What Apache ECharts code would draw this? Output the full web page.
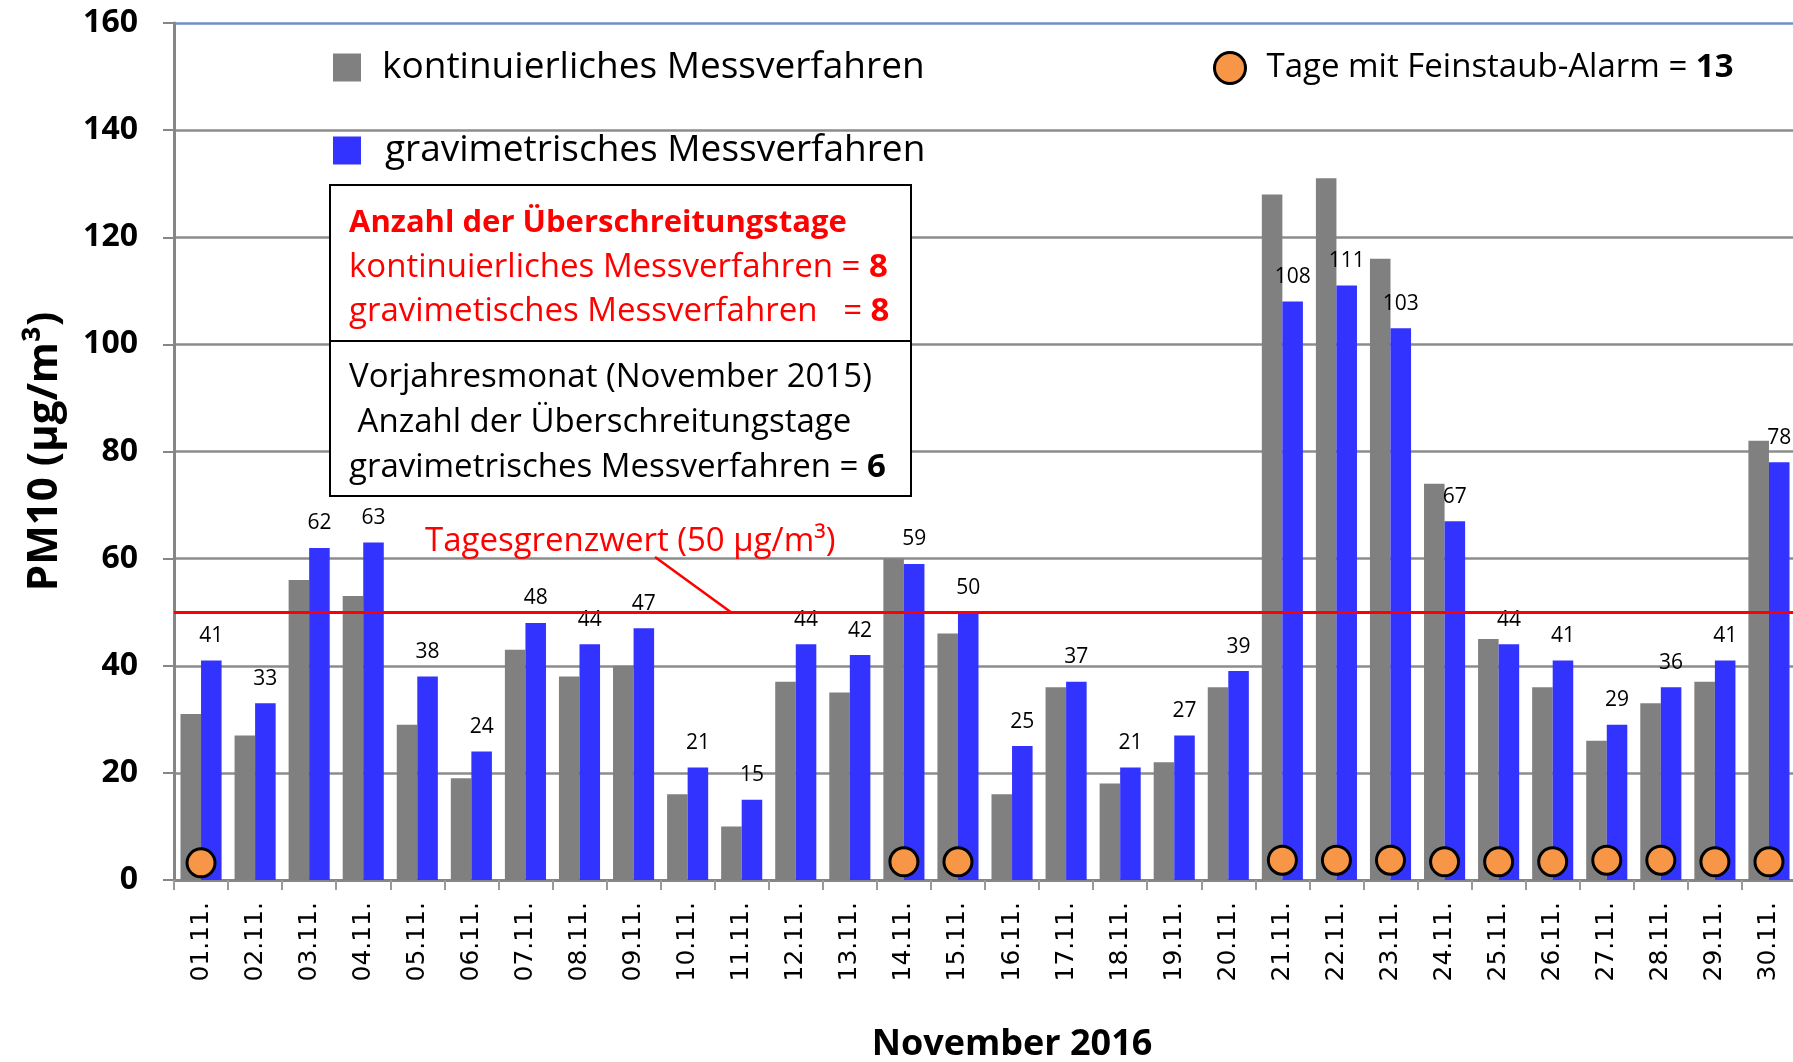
<!DOCTYPE html>
<html>
<head>
<meta charset="utf-8">
<script src="https://cdn.jsdelivr.net/npm/echarts@6/dist/echarts.min.js"></script>
<style>
html, body { margin: 0; padding: 0; background: #fff; }
#chart { width: 1793px; height: 1062px; }
</style>
</head>
<body>
<div id="chart"></div>
<script>
// Tage im November 2016
var days = ['01.11.', '02.11.', '03.11.', '04.11.', '05.11.', '06.11.', '07.11.', '08.11.', '09.11.', '10.11.',
            '11.11.', '12.11.', '13.11.', '14.11.', '15.11.', '16.11.', '17.11.', '18.11.', '19.11.', '20.11.',
            '21.11.', '22.11.', '23.11.', '24.11.', '25.11.', '26.11.', '27.11.', '28.11.', '29.11.', '30.11.'];
// PM10 Tagesmittel, kontinuierliches Messverfahren (grau)
var kontinuierlich = [31, 27, 56, 53, 29, 19, 43, 38, 40, 16, 10, 37, 35, 60, 46,
                      16, 36, 18, 22, 36, 128, 131, 116, 74, 45, 36, 26, 33, 37, 82];
// PM10 Tagesmittel, gravimetrisches Messverfahren (blau)
var gravimetrisch = [41, 33, 62, 63, 38, 24, 48, 44, 47, 21, 15, 44, 42, 59, 50,
                     25, 37, 21, 27, 39, 108, 111, 103, 67, 44, 41, 29, 36, 41, 78];
// Tage mit Feinstaub-Alarm (Markierung knapp ueber der Achse)
var alarm = [3.2, '-', '-', '-', '-', '-', '-', '-', '-', '-', '-', '-', '-', 3.4, 3.4,
             '-', '-', '-', '-', '-', 3.7, 3.7, 3.7, 3.4, 3.4, 3.4, 3.7, 3.7, 3.4, 3.4];
var grenzwert = 50;

var F = '"Open Sans", sans-serif';
var nameKont = 'kontinuierliches Messverfahren';
var nameGrav = 'gravimetrisches Messverfahren';
var nameAlarm = 'Tage mit Feinstaub-Alarm';

function boxLine(y, text, color) {
  return {
    type: 'text', x: 349, y: y, z: 100,
    style: {
      text: text,
      verticalAlign: 'middle',
      fill: color,
      font: '33px ' + F,
      rich: {
        n: { fontFamily: F, fontSize: 33, fill: color },
        b: { fontFamily: F, fontSize: 33, fontWeight: 'bold', fill: color },
        t: { fontFamily: F, fontSize: 31, fontWeight: 'bold', fill: color }
      }
    }
  };
}

var myChart = echarts.init(document.getElementById('chart'));
var option = {
  animation: false,
  backgroundColor: '#fff',
  grid: { left: 174, top: 23, width: 1622, height: 857, outerBoundsMode: 'none' },
  legend: [{
    data: [nameKont], left: 333, top: 49, icon: 'rect', padding: 0,
    itemWidth: 28, itemHeight: 28,
    textStyle: { fontFamily: F, fontSize: 37, color: '#000', padding: [0, 0, 0, 16] }
  }, {
    data: [nameGrav], left: 333, top: 132, icon: 'rect', padding: 0,
    itemWidth: 28, itemHeight: 28,
    textStyle: { fontFamily: F, fontSize: 37, color: '#000', padding: [0, 0, 4, 19] }
  }, {
    data: [nameAlarm], left: 1213, top: 51, padding: 0,
    itemWidth: 31, itemHeight: 31,
    itemStyle: { color: '#f79646', borderColor: '#000', borderWidth: 3 },
    formatter: function (n) { return n + ' = {b|13}'; },
    textStyle: {
      fontFamily: F, fontSize: 33, color: '#000', padding: [0, 0, 0, 16],
      rich: { b: { fontFamily: F, fontSize: 33, fontWeight: 'bold', color: '#000' } }
    }
  }],
  xAxis: {
    type: 'category',
    data: days,
    name: 'November 2016',
    nameLocation: 'middle',
    nameGap: 147,
    nameTextStyle: { fontFamily: F, fontSize: 36, fontWeight: 'bold', color: '#000', padding: [0, 0, 0, 54] },
    axisLine: { lineStyle: { color: '#868686', width: 3 } },
    axisTick: { show: true, length: 10, lineStyle: { color: '#9a9a9a', width: 2 } },
    axisLabel: { rotate: 90, margin: 22, fontFamily: 'DejaVu Sans', fontSize: 25, color: '#000', interval: 0 }
  },
  yAxis: {
    type: 'value',
    min: 0, max: 160, interval: 20,
    name: 'PM10 (µg/m³)',
    nameLocation: 'middle',
    nameGap: 108,
    nameTextStyle: { fontFamily: F, fontSize: 42, fontWeight: 'bold', color: '#000' },
    axisLine: { show: true, lineStyle: { color: '#868686', width: 3 } },
    axisTick: { show: true, length: 11, lineStyle: { color: '#868686', width: 2 } },
    axisLabel: { margin: 36, fontFamily: F, fontSize: 32, fontWeight: 'bold', color: '#000' },
    splitLine: {
      lineStyle: {
        width: 2.5,
        color: ['#8c8c8c', '#8c8c8c', '#8c8c8c', '#8c8c8c', '#8c8c8c', '#8c8c8c', '#8c8c8c', '#8c8c8c', '#6f92c4']
      }
    }
  },
  series: [{
    name: nameKont,
    type: 'bar',
    data: kontinuierlich,
    barGap: '0%',
    barCategoryGap: '24%',
    itemStyle: { color: '#808080' }
  }, {
    name: nameGrav,
    type: 'bar',
    data: gravimetrisch,
    itemStyle: { color: '#3333ff' },
    label: { show: true, position: 'top', distance: 14, fontFamily: F, fontSize: 21, color: '#000' },
    markLine: {
      silent: true,
      symbol: ['none', 'none'],
      label: { show: false },
      lineStyle: { color: '#ff0000', width: 3, type: 'solid' },
      data: [{ yAxis: grenzwert }]
    }
  }, {
    name: nameAlarm,
    type: 'scatter',
    data: alarm,
    z: 5,
    symbol: 'circle',
    symbolSize: 28,
    itemStyle: { color: '#f79646', borderColor: '#000', borderWidth: 3, opacity: 1 }
  }],
  graphic: [
    { type: 'rect', z: 90, shape: { x: 330, y: 185, width: 581, height: 156 },
      style: { fill: '#fff', stroke: '#000', lineWidth: 2 } },
    { type: 'rect', z: 90, shape: { x: 330, y: 341, width: 581, height: 155 },
      style: { fill: '#fff', stroke: '#000', lineWidth: 2 } },
    boxLine(223, '{t|Anzahl der Überschreitungstage}', '#ff0000'),
    boxLine(268, '{n|kontinuierliches Messverfahren = }{b|8}', '#ff0000'),
    boxLine(312, '{n|gravimetisches Messverfahren   = }{b|8}', '#ff0000'),
    boxLine(378, '{n|Vorjahresmonat (November 2015)}', '#000'),
    boxLine(423, '{n| Anzahl der Überschreitungstage}', '#000'),
    boxLine(468, '{n|gravimetrisches Messverfahren = }{b|6}', '#000'),
    { type: 'text', x: 425, y: 542, z: 100,
      style: { text: 'Tagesgrenzwert (50 µg/m³)', font: '33px ' + F, fill: '#ff0000', verticalAlign: 'middle' } },
    { type: 'line', z: 100, shape: { x1: 655, y1: 557, x2: 732, y2: 613 },
      style: { stroke: '#ff0000', lineWidth: 2.5 } }
  ]
};
myChart.setOption(option);
</script>
</body>
</html>
